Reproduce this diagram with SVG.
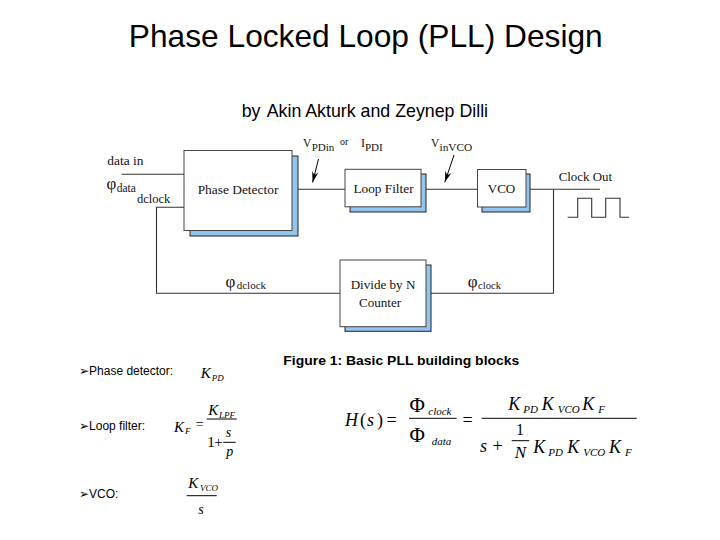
<svg xmlns="http://www.w3.org/2000/svg" width="720" height="540" viewBox="0 0 720 540">
<style>
.sans{font-family:"Liberation Sans",Arial,sans-serif;fill:#000}
.lbl{font-family:"Liberation Sans","DejaVu Sans",Arial,sans-serif;font-size:12px;fill:#000}
.ser{font-family:"Liberation Serif","Times New Roman",serif;fill:#111}
.it{font-family:"Liberation Serif","Times New Roman",serif;font-style:italic;fill:#000}
.up{font-family:"Liberation Serif","Times New Roman",serif;fill:#000}
.box{fill:#fff;stroke:#444;stroke-width:1}
.shadow{fill:#92c4ee;stroke:#222;stroke-width:1}
.wire{fill:none;stroke:#333;stroke-width:1.1}
.frac{stroke:#000;stroke-width:1}
</style>
<defs>
<marker id="arr" markerUnits="userSpaceOnUse" markerWidth="14" markerHeight="10" refX="0" refY="0" viewBox="-12 -5 14 10" orient="auto">
<path d="M0,0 L-11,-3.2 L-7.5,0 L-11,3.2 Z" fill="#000"/>
</marker>
</defs>
<rect width="720" height="540" fill="#fff"/>

<text class="sans" x="365.8" y="46.7" font-size="31.7" text-anchor="middle">Phase Locked Loop (PLL) Design</text>
<text class="sans" x="241.7" y="116.7" font-size="17.8">by</text>
<text class="sans" x="266.7" y="116.7" font-size="17.8">Akin Akturk and Zeynep Dilli</text>

<g id="connectors">
<polyline class="wire" points="121.7,174.3 184,174.3"/>
<polyline class="wire" points="184,207.3 156.5,207.3 156.5,293.3 340,293.3"/>
<polyline class="wire" points="426,293.3 553.5,293.3 553.5,189.3"/>
<line class="wire" x1="292" y1="189.3" x2="345" y2="189.3"/>
<line class="wire" x1="421" y1="189.3" x2="477.5" y2="189.3"/>
<line class="wire" x1="526" y1="189.3" x2="600" y2="189.3"/>
<line x1="318.5" y1="159" x2="312.6" y2="182.5" stroke="#000" stroke-width="1" marker-end="url(#arr)"/>
<line x1="454" y1="155" x2="444.8" y2="182.3" stroke="#000" stroke-width="1" marker-end="url(#arr)"/>
<polyline class="wire" points="567.7,217.3 577.7,217.3 577.7,198.3 591.7,198.3 591.7,217.3 605.7,217.3 605.7,198.3 620,198.3 620,217.3 629,217.3"/>
</g>

<g id="phase-detector">
<rect class="shadow" x="190" y="156" width="108" height="80"/>
<rect class="box" x="184" y="150.5" width="108" height="80"/>
<text class="ser" x="238" y="194.3" font-size="13.4" text-anchor="middle">Phase Detector</text>
</g>
<g id="loop-filter">
<rect class="shadow" x="350" y="174" width="76" height="38"/>
<rect class="box" x="345" y="169.3" width="76" height="37.5"/>
<text class="ser" x="383.5" y="193.3" font-size="13.3" text-anchor="middle">Loop Filter</text>
</g>
<g id="vco">
<rect class="shadow" x="482" y="174" width="48" height="38"/>
<rect class="box" x="477.5" y="169.5" width="48.5" height="37.5"/>
<text class="ser" x="501.5" y="193.3" font-size="13" text-anchor="middle">VCO</text>
</g>
<g id="divide-by-n">
<rect class="shadow" x="345" y="265" width="86" height="66.3"/>
<rect class="box" x="340" y="260" width="86" height="66.7"/>
<text class="ser" x="383" y="289.3" font-size="13.1" text-anchor="middle">Divide by N</text>
<text class="ser" x="380" y="307.3" font-size="13.1" text-anchor="middle">Counter</text>
</g>

<g id="labels">
<text class="ser" x="107.3" y="165" font-size="13.4">data in</text>
<text class="ser" x="106.5" y="189" font-size="17">φ</text>
<text class="ser" x="116.7" y="191.5" font-size="11.5">data</text>
<text class="ser" x="137" y="203.3" font-size="12.5">dclock</text>
<text class="ser" x="558.7" y="180.5" font-size="12.9">Clock Out</text>
<text class="ser" x="225.5" y="286.5" font-size="17">φ</text>
<text class="ser" x="236.7" y="289" font-size="11">dclock</text>
<text class="ser" x="467.8" y="286.5" font-size="17">φ</text>
<text class="ser" x="478" y="289" font-size="10.6">clock</text>
<text class="ser" x="303" y="147" font-size="11.5">V</text>
<text class="ser" x="311.7" y="151" font-size="11">PDin</text>
<text class="ser" x="340" y="145" font-size="10">or</text>
<text class="ser" x="361" y="147" font-size="12">I</text>
<text class="ser" x="365" y="151" font-size="11">PDI</text>
<text class="ser" x="431" y="147" font-size="11.5">V</text>
<text class="ser" x="439.5" y="151" font-size="11.3">inVCO</text>
</g>

<text class="sans" x="283.3" y="365" font-size="13.5" font-weight="bold" textLength="236" lengthAdjust="spacingAndGlyphs">Figure 1: Basic PLL building blocks</text>

<g id="bullets">
<text class="lbl" x="79" y="375">➢Phase detector:</text>
<text class="lbl" x="79" y="430">➢Loop filter:</text>
<text class="lbl" x="79" y="498.3">➢VCO:</text>
</g>

<g id="formula-pd">
<text class="it" x="200.7" y="378.3" font-size="15">K</text>
<text class="it" x="211.7" y="380.5" font-size="9">PD</text>
</g>
<g id="formula-lf">
<text class="it" x="174" y="431.7" font-size="15">K</text>
<text class="it" x="185" y="434" font-size="9">F</text>
<text class="up" x="199.7" y="428.5" font-size="14" text-anchor="middle">=</text>
<line class="frac" x1="206.7" y1="419" x2="236.7" y2="419"/>
<text class="it" x="208.3" y="415" font-size="15">K</text>
<text class="it" x="219" y="417.5" font-size="9">LPF</text>
<text class="up" x="207.3" y="446.7" font-size="15">1</text>
<text class="up" x="214.2" y="446.7" font-size="15">+</text>
<text class="it" x="225.7" y="437.3" font-size="14">s</text>
<line class="frac" x1="223.3" y1="442.3" x2="235.7" y2="442.3"/>
<text class="it" x="226.2" y="456" font-size="14">p</text>
</g>
<g id="formula-vco">
<text class="it" x="188.3" y="488.3" font-size="15">K</text>
<text class="it" x="200" y="491" font-size="9">VCO</text>
<line class="frac" x1="186.7" y1="495.7" x2="216.7" y2="495.7"/>
<text class="it" x="198.3" y="514.3" font-size="14">s</text>
</g>
<g id="formula-h">
<text class="it" x="345" y="425.7" font-size="18">H</text>
<text class="up" x="360" y="425.7" font-size="18">(</text>
<text class="it" x="367" y="425.7" font-size="18">s</text>
<text class="up" x="377" y="425.7" font-size="18">)</text>
<text class="up" x="391.7" y="425.7" font-size="18" text-anchor="middle">=</text>
<text class="up" x="409.5" y="411.7" font-size="21">Φ</text>
<text class="it" x="428.3" y="415" font-size="11">clock</text>
<line class="frac" x1="409" y1="418.3" x2="456.7" y2="418.3"/>
<text class="up" x="409.5" y="441.7" font-size="21">Φ</text>
<text class="it" x="431.7" y="445" font-size="11">data</text>
<text class="up" x="467.5" y="425.7" font-size="18" text-anchor="middle">=</text>
<line class="frac" x1="481.7" y1="418.3" x2="636.7" y2="418.3"/>
<text class="it" x="508.3" y="410" font-size="18">K</text>
<text class="it" x="523.3" y="413" font-size="11">PD</text>
<text class="it" x="541.7" y="410" font-size="18">K</text>
<text class="it" x="557.7" y="413" font-size="11">VCO</text>
<text class="it" x="582.3" y="410" font-size="18">K</text>
<text class="it" x="598.3" y="413" font-size="11">F</text>
<text class="it" x="480" y="452" font-size="18">s</text>
<text class="up" x="497.5" y="452" font-size="18" text-anchor="middle">+</text>
<text class="up" x="520" y="435" font-size="16" text-anchor="middle">1</text>
<line class="frac" x1="511.7" y1="440.7" x2="529.3" y2="440.7"/>
<text class="it" x="520.5" y="458.3" font-size="17" text-anchor="middle">N</text>
<text class="it" x="533.3" y="452.5" font-size="18">K</text>
<text class="it" x="548.3" y="455.5" font-size="11">PD</text>
<text class="it" x="567.3" y="452.5" font-size="18">K</text>
<text class="it" x="583.3" y="455.5" font-size="11">VCO</text>
<text class="it" x="609" y="452.5" font-size="18">K</text>
<text class="it" x="625" y="455.5" font-size="11">F</text>
</g>
</svg>
